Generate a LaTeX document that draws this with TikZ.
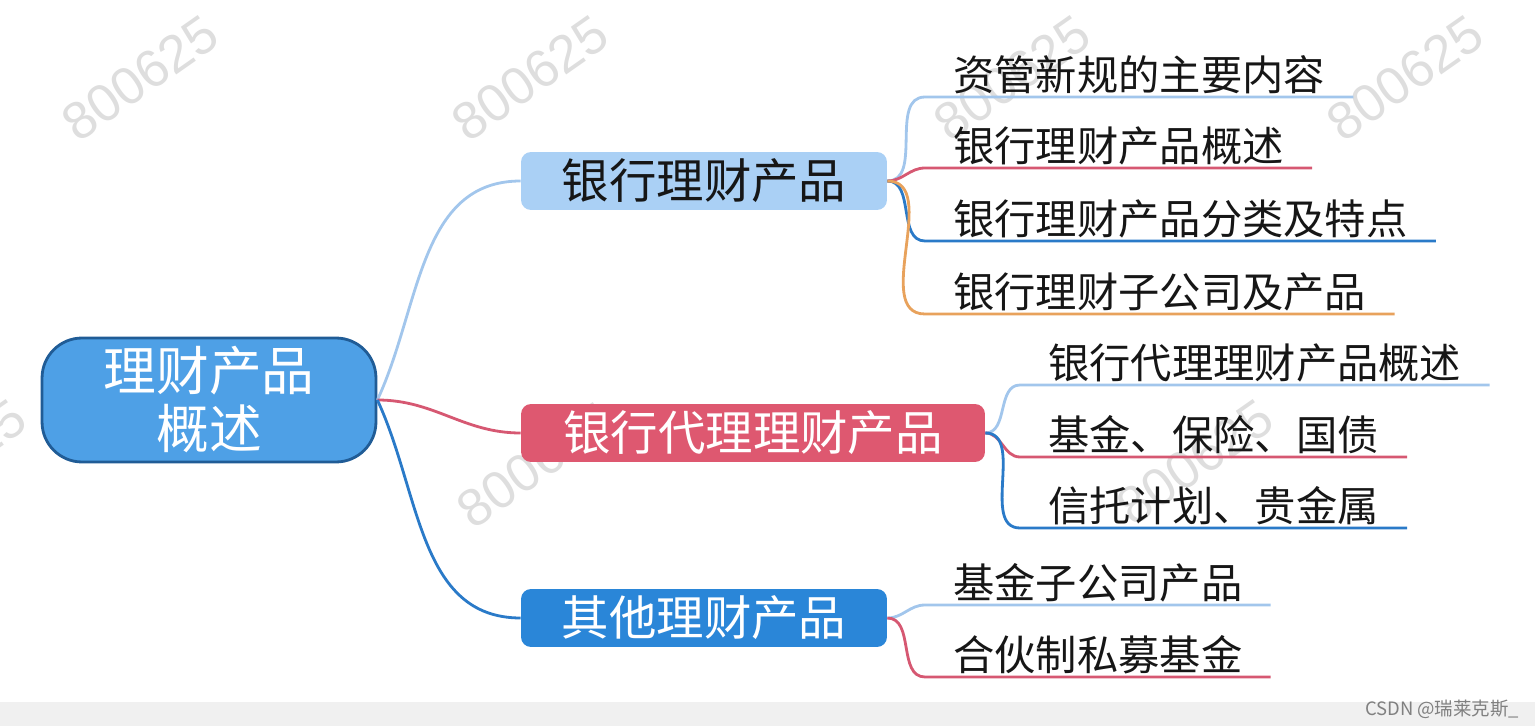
\documentclass[tikz,border=0pt]{standalone}
\usepackage{fontspec}
\setmainfont{Noto Sans CJK SC}
\newfontfamily\wmfont{Liberation Sans}
\usepackage{tikz}
\usetikzlibrary{positioning}
\definecolor{RootFill}{RGB}{78,160,230}
\definecolor{RootEdge}{RGB}{32,92,150}
\definecolor{BankFill}{RGB}{170,208,245}
\definecolor{AgentFill}{RGB}{222,88,112}
\definecolor{OtherFill}{RGB}{42,134,216}
\definecolor{TextDark}{RGB}{22,22,22}
\definecolor{LinkLight}{RGB}{162,198,236}
\definecolor{LinkRed}{RGB}{214,88,114}
\definecolor{LinkBlue}{RGB}{42,122,200}
\definecolor{LinkOrange}{RGB}{232,162,92}
\tikzset{
  rootbox/.style={rounded corners=0.8cm, draw=RootEdge, line width=1.6pt, fill=RootFill, text=white,
    minimum width=6.68cm, minimum height=2.48cm, align=center, font=\fontsize{30}{33}\selectfont},
  branchbox/.style={rounded corners=0.2cm, minimum height=1.16cm, font=\fontsize{27}{30}\selectfont},
  leaf/.style={anchor=south west, inner xsep=0.56cm, inner ysep=0.06cm, text=TextDark,
    font=\fontsize{23.5}{26}\selectfont},
  link/.style={line width=1.6pt},
  watermark/.style={rotate=35, text=black!13, font=\wmfont\fontsize{30}{30}\selectfont}
}

\begin{document}
\begin{tikzpicture}[x=0.02cm, y=-0.02cm]
  \useasboundingbox (0,0) rectangle (1535,726);
  \clip (0,0) rectangle (1535,726);
  \fill[black!6] (0,702) rectangle (1535,726);

  % Marcas de agua
  \foreach \wx/\wy [count=\i] in {140/78, 530/78, 1012/78, 1405/78, -52/462, 535/465, 1195/462}
    \node[watermark] (wm\i) at (\wx,\wy) {800625};

  % Nodos
  \node[rootbox] (root) at (209,400) {理财产品\\概述};
  \node[branchbox, fill=BankFill, text=TextDark, minimum width=7.32cm] (bank) at (704,181) {银行理财产品};
  \node[branchbox, fill=AgentFill, text=white, minimum width=9.28cm] (agent) at (753,433) {银行代理理财产品};
  \node[branchbox, fill=OtherFill, text=white, minimum width=7.32cm] (other) at (704,618) {其他理财产品};

  \node[leaf] (bank1) at (925,97) {资管新规的主要内容};
  \node[leaf] (bank2) at (925,168) {银行理财产品概述};
  \node[leaf] (bank3) at (925,241) {银行理财产品分类及特点};
  \node[leaf] (bank4) at (925,314) {银行理财子公司及产品};

  \node[leaf] (agent1) at (1020,385) {银行代理理财产品概述};
  \node[leaf] (agent2) at (1020,457) {基金、保险、国债};
  \node[leaf] (agent3) at (1020,528) {信托计划、贵金属};

  \node[leaf] (other1) at (925,605) {基金子公司产品};
  \node[leaf] (other2) at (925,677) {合伙制私募基金};

  % Conexiones
  \draw[link, LinkLight] (root.east) to[out=65, in=180] (bank.west);
  \draw[link, LinkRed] (root.east) to[out=0, in=180] (agent.west);
  \draw[link, LinkBlue] (root.east) to[out=-65, in=180] (other.west);

  \foreach \n/\c in {bank1/LinkLight, bank2/LinkRed, bank3/LinkBlue, bank4/LinkOrange}
    \draw[link, \c] (bank.east) to[out=0, in=180] (\n.south west) -- (\n.south east);
  \foreach \n/\c in {agent1/LinkLight, agent2/LinkRed, agent3/LinkBlue}
    \draw[link, \c] (agent.east) to[out=0, in=180] (\n.south west) -- (\n.south east);
  \foreach \n/\c in {other1/LinkLight, other2/LinkRed}
    \draw[link, \c] (other.east) to[out=0, in=180] (\n.south west) -- (\n.south east);

  % Etiquetas
  \node[text=black!50, font=\fontsize{10.5}{12}\selectfont] (csdn) at (1442,709) {CSDN @瑞莱克斯\_};
\end{tikzpicture}
\end{document}
